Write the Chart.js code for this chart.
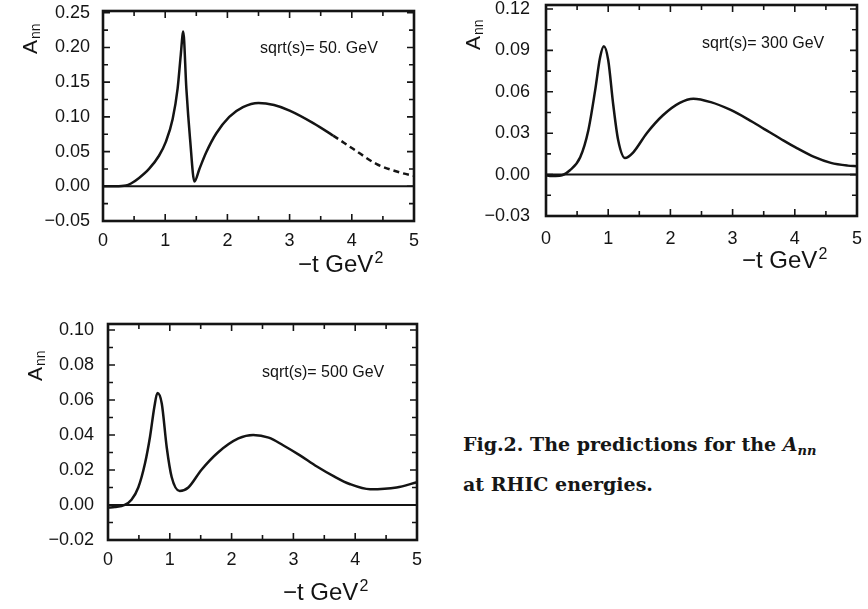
<!DOCTYPE html>
<html>
<head>
<meta charset="utf-8">
<script src="https://cdn.jsdelivr.net/npm/chart.js@4.4.1/dist/chart.umd.min.js"></script>
<style>
  html, body { margin: 0; padding: 0; background: #fff; }
  body { width: 868px; height: 609px; position: relative; overflow: hidden; }
  canvas { position: absolute; }
  #c1 { left: 0; top: 0; }
  #c2 { left: 430px; top: 0; }
  #c3 { left: 0; top: 310px; }
  .caption {
    position: absolute; left: 463px; white-space: nowrap;
    font-family: "DejaVu Serif", "Liberation Serif", serif;
    font-weight: bold; font-size: 19px; line-height: 24px; color: #161616;
  }
  .caption sub { font-size: 13px; vertical-align: -4px; line-height: 0; }
</style>
</head>
<body>
<canvas id="c1" width="430" height="300"></canvas>
<canvas id="c2" width="438" height="300"></canvas>
<canvas id="c3" width="430" height="299"></canvas>
<div class="caption" style="top:432px">Fig.2. The predictions for the <i>A<sub>nn</sub></i></div>
<div class="caption" style="top:472px">at RHIC energies.</div>

<script>
// -t values (GeV^2) and A_nn
const xTicks = [0, 1, 2, 3, 4, 5];

// sqrt(s) = 50 GeV
const t50   = [0, 0.2, 0.37, 0.45, 0.58, 0.74, 0.90, 1.01, 1.12, 1.20, 1.25, 1.29, 1.34, 1.40, 1.47,
               1.55, 1.66, 1.82, 2.03, 2.25, 2.50, 2.75, 3.00, 3.38, 3.70, 4.02, 4.40, 4.77, 5.00];
const ann50 = [0, 0, 0.001, 0.004, 0.012, 0.025, 0.044, 0.064, 0.097, 0.141, 0.189, 0.223, 0.141, 0.068, 0.007,
               0.025, 0.049, 0.076, 0.100, 0.114, 0.120, 0.117, 0.109, 0.091, 0.073, 0.054, 0.032, 0.020, 0.015];
const yTicks50 = [-0.05, 0, 0.05, 0.10, 0.15, 0.20, 0.25];

// sqrt(s) = 300 GeV
const t300   = [0, 0.06, 0.22, 0.38, 0.55, 0.68, 0.79, 0.87, 0.93, 1.00, 1.08, 1.16, 1.27, 1.40,
                1.62, 1.88, 2.15, 2.37, 2.65, 2.96, 3.25, 3.51, 3.77, 4.04, 4.31, 4.58, 4.85, 5.00];
const ann300 = [-0.0005, -0.001, -0.0008, 0.003, 0.0126, 0.032, 0.061, 0.085, 0.093, 0.083, 0.051, 0.025, 0.012, 0.016,
                0.030, 0.043, 0.052, 0.055, 0.0525, 0.047, 0.040, 0.033, 0.026, 0.019, 0.0128, 0.0085, 0.0065, 0.006];
const yTicks300 = [-0.03, 0, 0.03, 0.06, 0.09, 0.12];

// sqrt(s) = 500 GeV
const t500   = [0, 0.11, 0.27, 0.38, 0.49, 0.60, 0.68, 0.75, 0.80, 0.87, 0.95, 1.03, 1.16, 1.30,
                1.51, 1.78, 2.11, 2.35, 2.60, 2.84, 3.10, 3.38, 3.65, 3.91, 4.24, 4.67, 5.00];
const ann500 = [-0.0015, -0.0012, 0, 0.003, 0.010, 0.024, 0.039, 0.056, 0.064, 0.058, 0.033, 0.016, 0.008, 0.010,
                0.020, 0.030, 0.038, 0.040, 0.0385, 0.034, 0.0285, 0.022, 0.0165, 0.012, 0.009, 0.010, 0.013];
const yTicks500 = [-0.02, 0, 0.02, 0.04, 0.06, 0.08, 0.10];

const ink = '#141414';
const sans = '"Liberation Sans", Arial, Helvetica, sans-serif';

function fmt(v) {
  if (Math.abs(v) < 1e-9) return '0.00';
  return v.toFixed(2).replace('-', '\u2212');
}

// frame, inward ticks on all four sides, and the in-plot labels
const framePlugin = {
  id: 'frame',
  afterDatasetsDraw(chart, args, o) {
    const { ctx, chartArea: a, scales: { x, y } } = chart;
    ctx.save();
    ctx.strokeStyle = ink;
    ctx.fillStyle = ink;

    ctx.lineWidth = 1.6;
    ctx.beginPath();
    const nx = Math.round((x.max - x.min) / o.xMinor);
    for (let i = 0; i <= nx; i++) {
      const v = x.min + i * o.xMinor;
      const px = x.getPixelForValue(v);
      const len = i % 2 === 0 ? 7 : 5;
      ctx.moveTo(px, a.bottom); ctx.lineTo(px, a.bottom - len);
      ctx.moveTo(px, a.top); ctx.lineTo(px, a.top + len);
    }
    const y0 = o.yTicks[0];
    const ny = Math.floor((y.max - y0) / o.yMinor + 1e-6);
    for (let i = 0; i <= ny; i++) {
      const v = y0 + i * o.yMinor;
      const py = y.getPixelForValue(v);
      const len = i % 2 === 0 ? 7 : 5;
      ctx.moveTo(a.left, py); ctx.lineTo(a.left + len, py);
      ctx.moveTo(a.right, py); ctx.lineTo(a.right - len, py);
    }
    ctx.stroke();

    ctx.lineWidth = 2.6;
    ctx.strokeRect(a.left, a.top, a.right - a.left, a.bottom - a.top);

    // energy note
    ctx.font = '16px ' + sans;
    ctx.textBaseline = 'alphabetic';
    ctx.textAlign = 'left';
    ctx.fillText(o.note, o.noteX, o.noteY);

    // -t GeV^2
    ctx.font = '24px ' + sans;
    ctx.fillText('\u2212t GeV', o.titleX, o.titleY);
    const w = ctx.measureText('\u2212t GeV').width;
    ctx.font = '16px ' + sans;
    ctx.fillText('2', o.titleX + w + 1, o.titleY - 9);

    // A_nn rotated
    ctx.translate(o.annX, o.annY);
    ctx.rotate(-Math.PI / 2);
    ctx.font = '21px ' + sans;
    ctx.fillText('A', 0, 0);
    const wa = ctx.measureText('A').width;
    ctx.font = '14px ' + sans;
    ctx.fillText('nn', wa + 1, 3);
    ctx.restore();
  }
};

function makePanel(id, p) {
  const curve = p.t.map((t, i) => ({ x: t, y: p.a[i] }));
  const zero = [{ x: xTicks[0], y: 0 }, { x: xTicks[xTicks.length - 1], y: 0 }];
  return new Chart(document.getElementById(id), {
    type: 'line',
    data: {
      datasets: [
        { data: zero, borderColor: ink, borderWidth: 2, pointRadius: 0, tension: 0 },
        {
          data: curve, borderColor: ink, borderWidth: 2.5, pointRadius: 0,
          cubicInterpolationMode: 'monotone',
          segment: {
            borderDash: c => (p.dashFrom != null && c.p0.parsed.x >= p.dashFrom) ? [6, 4] : undefined
          }
        }
      ]
    },
    options: {
      responsive: false,
      animation: false,
      events: [],
      layout: { padding: { top: p.padTop, right: p.padRight, left: 0, bottom: 0 } },
      plugins: {
        legend: { display: false },
        tooltip: { enabled: false },
        frame: {
          xMinor: 0.5, yMinor: p.yMinor, yTicks: p.yTicks, note: p.note,
          noteX: p.noteX, noteY: p.noteY, titleX: p.titleX, titleY: p.titleY,
          annX: p.annX, annY: p.annY
        }
      },
      scales: {
        x: {
          type: 'linear',
          min: xTicks[0],
          max: xTicks[xTicks.length - 1],
          afterBuildTicks: s => { s.ticks = xTicks.map(v => ({ value: v })); },
          ticks: { color: ink, font: { family: sans, size: 18 }, padding: p.xPad, maxRotation: 0, autoSkip: false, callback: v => String(v) },
          grid: { display: false, drawTicks: false },
          border: { display: false },
          afterFit: s => { s.height = p.xH; s.paddingLeft = 0; s.paddingRight = 0; }
        },
        y: {
          type: 'linear',
          min: p.yTicks[0],
          max: p.yMax,
          afterBuildTicks: s => { s.ticks = p.yTicks.map(v => ({ value: v })); },
          ticks: { color: ink, font: { family: sans, size: 18 }, padding: p.yPad, autoSkip: false, callback: v => fmt(v) },
          grid: { display: false, drawTicks: false },
          border: { display: false },
          afterFit: s => { s.width = p.yW; s.paddingTop = 0; s.paddingBottom = 0; }
        }
      }
    },
    plugins: [framePlugin]
  });
}

makePanel('c1', {
  t: t50, a: ann50, yTicks: yTicks50, yMax: 0.2525, yMinor: 0.025, dashFrom: 3.4,
  padTop: 11, padRight: 16, yW: 103, xH: 79, xPad: 9, yPad: 13,
  note: 'sqrt(s)= 50. GeV', noteX: 260, noteY: 53,
  titleX: 298, titleY: 272, annX: 37, annY: 54
});

makePanel('c2', {
  t: t300, a: ann300, yTicks: yTicks300, yMax: 0.1229, yMinor: 0.015,
  padTop: 5, padRight: 11, yW: 116, xH: 84, xPad: 12, yPad: 16,
  note: 'sqrt(s)= 300 GeV', noteX: 272, noteY: 48,
  titleX: 312, titleY: 268, annX: 50, annY: 50
});

makePanel('c3', {
  t: t500, a: ann500, yTicks: yTicks500, yMax: 0.1034, yMinor: 0.01,
  padTop: 14, padRight: 13, yW: 108, xH: 69, xPad: 9, yPad: 14,
  note: 'sqrt(s)= 500 GeV', noteX: 262, noteY: 67,
  titleX: 283, titleY: 290, annX: 42, annY: 71
});
</script>
</body>
</html>
